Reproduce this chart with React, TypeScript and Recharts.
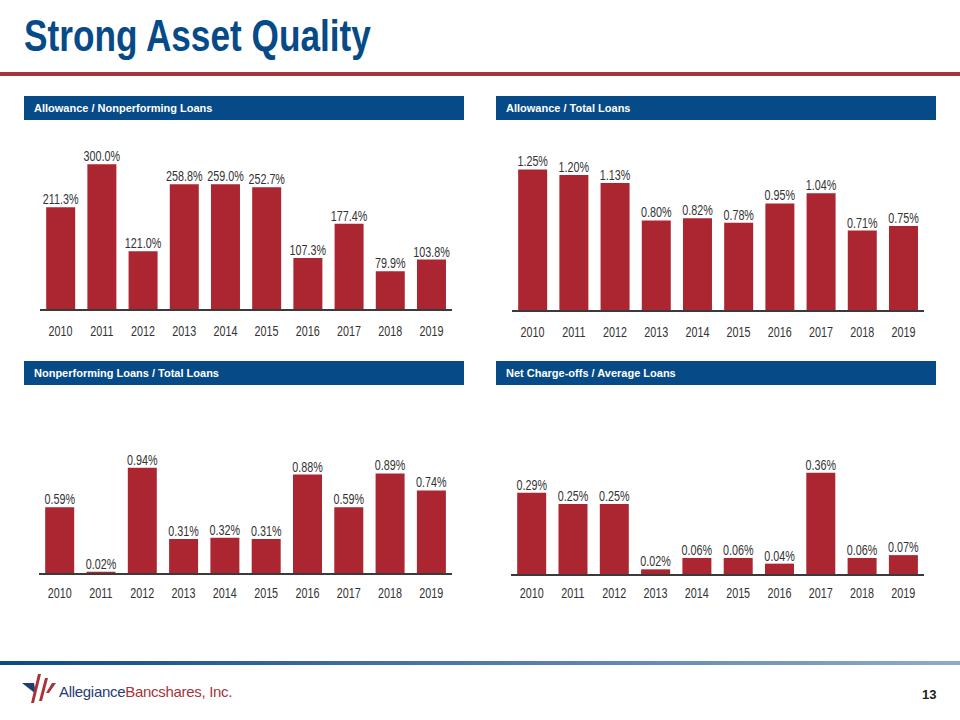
import React from "react";
import { Bar, BarChart, LabelList, XAxis, YAxis } from "recharts";

const YEARS = ["2010", "2011", "2012", "2013", "2014", "2015", "2016", "2017", "2018", "2019"];

const ALLOWANCE_NPL = [211.3, 300.0, 121.0, 258.8, 259.0, 252.7, 107.3, 177.4, 79.9, 103.8];
const ALLOWANCE_LOANS = [1.25, 1.2, 1.13, 0.8, 0.82, 0.78, 0.95, 1.04, 0.71, 0.75];
const NPL_LOANS = [0.59, 0.02, 0.94, 0.31, 0.32, 0.31, 0.88, 0.59, 0.89, 0.74];
const NCO_AVG_LOANS = [0.29, 0.25, 0.25, 0.02, 0.06, 0.06, 0.04, 0.36, 0.06, 0.07];

const BLUE = "#064a87";
const RED_BAR = "#ab2630";
const TEXT = "#333333";
const SANS = '"Liberation Sans", Arial, sans-serif';
// no narrow face installed, so squeeze the regular one
const SQUEEZE = 0.77;

const toRows = (values: number[]) => YEARS.map((year, i) => ({ year, value: values[i] }));

const NarrowText: React.FC<{ x: number; y: number; dy?: string; children: React.ReactNode }> = ({
  x,
  y,
  dy,
  children,
}) => (
  <text
    x={x}
    y={y}
    dy={dy}
    textAnchor="middle"
    fill={TEXT}
    fontSize={14}
    fontFamily={SANS}
    transform={`translate(${x} 0) scale(${SQUEEZE} 1) translate(${-x} 0)`}
  >
    {children}
  </text>
);

interface PanelChartProps {
  values: number[];
  decimals: number;
  left: number;
  top: number;
  width: number;
  plotHeight: number;
  yMax: number;
  tickMargin: number;
}

const AXIS_H = 34;

const PanelChart: React.FC<PanelChartProps> = ({
  values,
  decimals,
  left,
  top,
  width,
  plotHeight,
  yMax,
  tickMargin,
}) => (
  <div style={{ position: "absolute", left, top }}>
    <BarChart
      width={width}
      height={plotHeight + AXIS_H}
      data={toRows(values)}
      margin={{ top: 0, right: 0, bottom: 0, left: 0 }}
      barCategoryGap="15%"
    >
      <XAxis
        dataKey="year"
        height={AXIS_H}
        tickLine={false}
        tickSize={0}
        tickMargin={tickMargin}
        axisLine={{ stroke: "#3a3a3a", strokeWidth: 2 }}
        interval={0}
        tick={(p: any) => (
          <NarrowText x={p.x} y={p.y} dy="0.71em">
            {p.payload.value}
          </NarrowText>
        )}
      />
      <YAxis hide domain={[0, yMax]} />
      <Bar dataKey="value" fill={RED_BAR} isAnimationActive={false}>
        <LabelList
          dataKey="value"
          content={(p: any) => (
            <NarrowText x={Number(p.x) + Number(p.width) / 2} y={Number(p.y) - 3}>
              {`${Number(p.value).toFixed(decimals)}%`}
            </NarrowText>
          )}
        />
      </Bar>
    </BarChart>
  </div>
);

const Header: React.FC<{ left: number; top: number; text: string }> = ({ left, top, text }) => (
  <div
    style={{
      position: "absolute",
      left,
      top,
      width: 440,
      height: 24,
      background: BLUE,
      color: "#fff",
      fontFamily: SANS,
      fontWeight: 700,
      fontSize: 11,
      lineHeight: "24px",
      paddingLeft: 10,
      boxSizing: "border-box",
    }}
  >
    {text}
  </div>
);

export default function App() {
  return (
    <div
      style={{
        position: "absolute",
        left: 0,
        top: 0,
        width: 960,
        height: 720,
        background: "#fff",
        overflow: "hidden",
      }}
    >
      <div
        style={{
          position: "absolute",
          left: 24,
          top: 10,
          fontFamily: SANS,
          fontWeight: 700,
          fontSize: 44,
          color: BLUE,
          lineHeight: "52px",
          whiteSpace: "nowrap",
          transform: "scaleX(0.8)",
          transformOrigin: "left top",
        }}
      >
        Strong Asset Quality
      </div>
      <div style={{ position: "absolute", left: 0, top: 72, width: 960, height: 4, background: "#a4343a" }} />

      <Header left={24} top={96} text="Allowance / Nonperforming Loans" />
      <Header left={496} top={96} text="Allowance / Total Loans" />
      <Header left={24} top={361} text="Nonperforming Loans / Total Loans" />
      <Header left={496} top={361} text="Net Charge-offs / Average Loans" />

      <PanelChart values={ALLOWANCE_NPL} decimals={1} left={40} top={140} width={412} plotHeight={170} yMax={350} tickMargin={16} />
      <PanelChart values={ALLOWANCE_LOANS} decimals={2} left={512} top={140} width={412} plotHeight={171} yMax={1.51} tickMargin={16} />
      <PanelChart values={NPL_LOANS} decimals={2} left={39} top={420} width={413} plotHeight={154} yMax={1.363} tickMargin={14} />
      <PanelChart values={NCO_AVG_LOANS} decimals={2} left={511} top={420} width={413} plotHeight={155} yMax={0.546} tickMargin={13} />

      <div
        style={{
          position: "absolute",
          left: 0,
          top: 661,
          width: 960,
          height: 4,
          background: "linear-gradient(to right, #0d4a82, #4f7ba6 50%, #8eacc9)",
        }}
      />
      <svg style={{ position: "absolute", left: 22, top: 674 }} width={38} height={30}>
        <polygon points="0,9 12,9 14,20" fill="#1f3d73" />
        <polygon points="16,0 19,0 12,29 9,29" fill="#a4343a" />
        <polygon points="23,4 26,4 20,27 17,27" fill="#a4343a" />
        <polygon points="30,9 34,9 27,19 24,19" fill="#a4343a" />
      </svg>
      <div
        style={{
          position: "absolute",
          left: 59,
          top: 682,
          fontFamily: SANS,
          fontSize: 15,
          letterSpacing: -0.3,
          lineHeight: "20px",
          whiteSpace: "nowrap",
        }}
      >
        <span style={{ color: "#1f3d73" }}>Allegiance</span>
        <span style={{ color: "#a4343a" }}>Bancshares, Inc.</span>
      </div>
      <div
        style={{
          position: "absolute",
          left: 922,
          top: 686,
          fontFamily: SANS,
          fontWeight: 700,
          fontSize: 13,
          color: "#222",
          lineHeight: "18px",
        }}
      >
        13
      </div>
    </div>
  );
}
